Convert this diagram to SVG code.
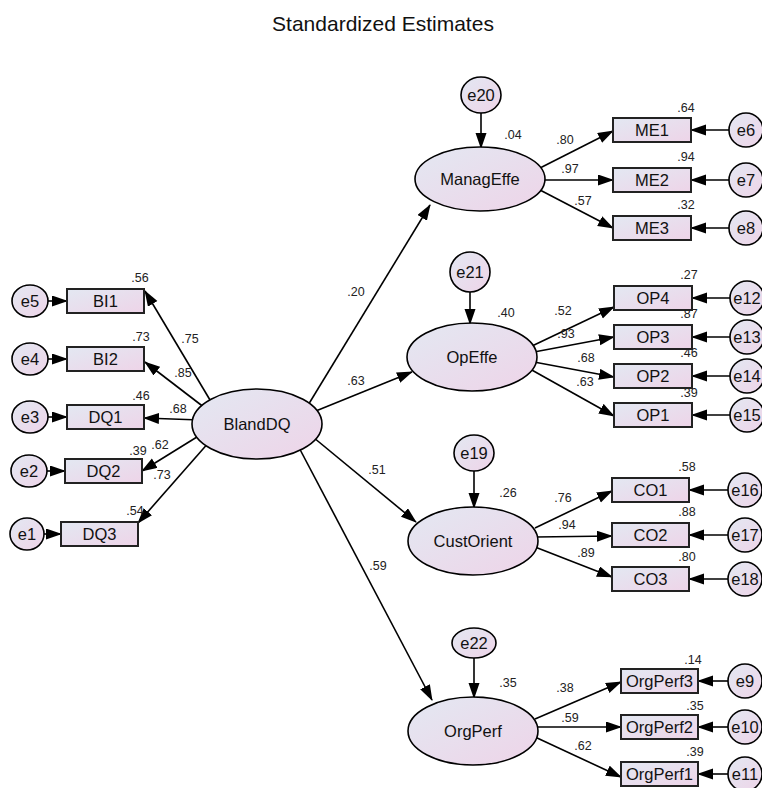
<svg xmlns="http://www.w3.org/2000/svg" width="762" height="788" viewBox="0 0 762 788">
<defs>
<linearGradient id="g" x1="0" y1="0" x2="1" y2="1">
<stop offset="0" stop-color="#e3e8f2"/>
<stop offset="1" stop-color="#eed4e8"/>
</linearGradient>
<marker id="ah" markerUnits="userSpaceOnUse" markerWidth="16" markerHeight="12" refX="15" refY="5.5" orient="auto">
<path d="M0,0 L16,5.5 L0,11 Z" fill="#000"/>
</marker>
<style>
.c line{stroke:#000;stroke-width:1.6;marker-end:url(#ah)}
.n ellipse{fill:url(#g);stroke:#000;stroke-width:1.6}
.n rect{fill:url(#g);stroke:#222;stroke-width:2}
text{font-family:"Liberation Sans",Arial,sans-serif;fill:#111}
.lb{font-size:16.5px;text-anchor:middle}
.nm{font-size:12.5px;text-anchor:middle;fill:#222}
.tt{font-size:21px;text-anchor:middle}
</style>
</defs>
<rect width="762" height="788" fill="#fff"/>
<text class="tt" x="383" y="31">Standardized Estimates</text>

<g id="connectors" class="c">
<line x1="47" y1="301" x2="67" y2="301"/>
<line x1="47" y1="359" x2="67" y2="359"/>
<line x1="47" y1="417" x2="67" y2="417"/>
<line x1="46" y1="471" x2="65" y2="471"/>
<line x1="43" y1="534" x2="61" y2="534"/>
<line x1="213" y1="405" x2="145" y2="291"/>
<line x1="205" y1="408" x2="145" y2="362"/>
<line x1="200" y1="420" x2="144" y2="418"/>
<line x1="205" y1="432" x2="142" y2="471"/>
<line x1="210" y1="441" x2="138" y2="523"/>
<line x1="299" y1="420" x2="430" y2="205"/>
<line x1="301" y1="417" x2="412" y2="372"/>
<line x1="302" y1="428" x2="416" y2="522"/>
<line x1="295" y1="440" x2="432" y2="700"/>
<line x1="481" y1="113" x2="481" y2="148"/>
<line x1="470" y1="292" x2="470" y2="324"/>
<line x1="474" y1="471" x2="474" y2="508"/>
<line x1="474" y1="658" x2="474" y2="698"/>
<line x1="540" y1="168" x2="613" y2="131"/>
<line x1="540" y1="180" x2="613" y2="180"/>
<line x1="540" y1="190" x2="613" y2="228"/>
<line x1="532" y1="346" x2="614" y2="307"/>
<line x1="534" y1="352" x2="614" y2="337"/>
<line x1="534" y1="362" x2="614" y2="377"/>
<line x1="530" y1="369" x2="614" y2="416"/>
<line x1="535" y1="528" x2="612" y2="491"/>
<line x1="536" y1="537" x2="612" y2="536"/>
<line x1="535" y1="547" x2="612" y2="577"/>
<line x1="535" y1="719" x2="621" y2="682"/>
<line x1="537" y1="727" x2="621" y2="727"/>
<line x1="535" y1="737" x2="621" y2="777"/>
<line x1="729" y1="130" x2="691" y2="130"/>
<line x1="729" y1="180" x2="691" y2="180"/>
<line x1="729" y1="228" x2="691" y2="228"/>
<line x1="730" y1="298" x2="692" y2="298"/>
<line x1="730" y1="337" x2="692" y2="337"/>
<line x1="730" y1="376" x2="692" y2="376"/>
<line x1="730" y1="415" x2="692" y2="415"/>
<line x1="728" y1="490" x2="689" y2="490"/>
<line x1="728" y1="535" x2="689" y2="535"/>
<line x1="728" y1="579" x2="689" y2="579"/>
<line x1="728" y1="681" x2="698" y2="681"/>
<line x1="728" y1="727" x2="698" y2="727"/>
<line x1="728" y1="774" x2="698" y2="774"/>
</g>

<g class="n">
<g id="BlandDQ"><ellipse cx="257" cy="424" rx="65" ry="35"/><text class="lb" x="257" y="430">BlandDQ</text></g>
<g id="ManagEffe"><ellipse cx="480" cy="179" rx="65" ry="32"/><text class="lb" x="480" y="185">ManagEffe</text></g>
<g id="OpEffe"><ellipse cx="472" cy="357" rx="65" ry="34"/><text class="lb" x="472" y="363">OpEffe</text></g>
<g id="CustOrient"><ellipse cx="473" cy="541" rx="65" ry="34"/><text class="lb" x="473" y="547">CustOrient</text></g>
<g id="OrgPerf"><ellipse cx="473" cy="731" rx="65" ry="34"/><text class="lb" x="473" y="737">OrgPerf</text></g>

<g id="e20"><ellipse cx="481" cy="95" rx="20" ry="18"/><text class="lb" x="481" y="101">e20</text></g>
<g id="e21"><ellipse cx="470" cy="272" rx="20" ry="20"/><text class="lb" x="470" y="278">e21</text></g>
<g id="e19"><ellipse cx="474" cy="453" rx="20" ry="18"/><text class="lb" x="474" y="459">e19</text></g>
<g id="e22"><ellipse cx="474" cy="643" rx="22" ry="15"/><text class="lb" x="474" y="649">e22</text></g>

<g id="BI1"><rect x="67" y="289" width="77" height="24"/><text class="lb" x="105.5" y="307">BI1</text></g>
<g id="BI2"><rect x="67" y="347" width="77" height="24"/><text class="lb" x="105.5" y="365">BI2</text></g>
<g id="DQ1"><rect x="67" y="405" width="77" height="24"/><text class="lb" x="105.5" y="423">DQ1</text></g>
<g id="DQ2"><rect x="65" y="459" width="77" height="24"/><text class="lb" x="103.5" y="477">DQ2</text></g>
<g id="DQ3"><rect x="61" y="522" width="77" height="24"/><text class="lb" x="99.5" y="540">DQ3</text></g>

<g id="e5"><ellipse cx="30" cy="301" rx="18" ry="16"/><text class="lb" x="30" y="307">e5</text></g>
<g id="e4"><ellipse cx="30" cy="359" rx="18" ry="16"/><text class="lb" x="30" y="365">e4</text></g>
<g id="e3"><ellipse cx="30" cy="417" rx="18" ry="16"/><text class="lb" x="30" y="423">e3</text></g>
<g id="e2"><ellipse cx="29" cy="471" rx="18" ry="16"/><text class="lb" x="29" y="477">e2</text></g>
<g id="e1"><ellipse cx="27" cy="534" rx="17" ry="16"/><text class="lb" x="27" y="540">e1</text></g>

<g id="ME1"><rect x="613" y="118" width="78" height="24"/><text class="lb" x="652" y="136">ME1</text></g>
<g id="ME2"><rect x="613" y="168" width="78" height="24"/><text class="lb" x="652" y="186">ME2</text></g>
<g id="ME3"><rect x="613" y="216" width="78" height="24"/><text class="lb" x="652" y="234">ME3</text></g>
<g id="OP4"><rect x="614" y="286" width="78" height="24"/><text class="lb" x="653" y="304">OP4</text></g>
<g id="OP3"><rect x="614" y="325" width="78" height="24"/><text class="lb" x="653" y="343">OP3</text></g>
<g id="OP2"><rect x="614" y="364" width="78" height="24"/><text class="lb" x="653" y="382">OP2</text></g>
<g id="OP1"><rect x="614" y="403" width="78" height="24"/><text class="lb" x="653" y="421">OP1</text></g>
<g id="CO1"><rect x="612" y="478" width="77" height="24"/><text class="lb" x="650.5" y="496">CO1</text></g>
<g id="CO2"><rect x="612" y="523" width="77" height="24"/><text class="lb" x="650.5" y="541">CO2</text></g>
<g id="CO3"><rect x="612" y="567" width="77" height="24"/><text class="lb" x="650.5" y="585">CO3</text></g>
<g id="OrgPerf3"><rect x="621" y="669" width="77" height="24"/><text class="lb" x="659.5" y="687">OrgPerf3</text></g>
<g id="OrgPerf2"><rect x="621" y="715" width="77" height="24"/><text class="lb" x="659.5" y="733">OrgPerf2</text></g>
<g id="OrgPerf1"><rect x="621" y="762" width="77" height="24"/><text class="lb" x="659.5" y="780">OrgPerf1</text></g>

<g id="e6"><ellipse cx="746" cy="130" rx="17" ry="17"/><text class="lb" x="746" y="136">e6</text></g>
<g id="e7"><ellipse cx="746" cy="180" rx="17" ry="17"/><text class="lb" x="746" y="186">e7</text></g>
<g id="e8"><ellipse cx="746" cy="228" rx="17" ry="17"/><text class="lb" x="746" y="234">e8</text></g>
<g id="e12"><ellipse cx="747" cy="298" rx="17" ry="17"/><text class="lb" x="747" y="304">e12</text></g>
<g id="e13"><ellipse cx="747" cy="337" rx="17" ry="17"/><text class="lb" x="747" y="343">e13</text></g>
<g id="e14"><ellipse cx="747" cy="376" rx="17" ry="17"/><text class="lb" x="747" y="382">e14</text></g>
<g id="e15"><ellipse cx="747" cy="415" rx="17" ry="17"/><text class="lb" x="747" y="421">e15</text></g>
<g id="e16"><ellipse cx="745" cy="490" rx="17" ry="17"/><text class="lb" x="745" y="496">e16</text></g>
<g id="e17"><ellipse cx="745" cy="535" rx="17" ry="17"/><text class="lb" x="745" y="541">e17</text></g>
<g id="e18"><ellipse cx="745" cy="579" rx="17" ry="17"/><text class="lb" x="745" y="585">e18</text></g>
<g id="e9"><ellipse cx="745" cy="681" rx="17" ry="17"/><text class="lb" x="745" y="687">e9</text></g>
<g id="e10"><ellipse cx="745" cy="727" rx="17" ry="17"/><text class="lb" x="745" y="733">e10</text></g>
<g id="e11"><ellipse cx="745" cy="774" rx="17" ry="17"/><text class="lb" x="745" y="780">e11</text></g>
</g>

<g id="labels">
<text class="nm" x="140" y="282">.56</text>
<text class="nm" x="190" y="343">.75</text>
<text class="nm" x="141" y="341">.73</text>
<text class="nm" x="183" y="377">.85</text>
<text class="nm" x="141" y="400">.46</text>
<text class="nm" x="178" y="413">.68</text>
<text class="nm" x="138" y="455">.39</text>
<text class="nm" x="160" y="449">.62</text>
<text class="nm" x="162" y="479">.73</text>
<text class="nm" x="135" y="515">.54</text>
<text class="nm" x="356" y="296">.20</text>
<text class="nm" x="356" y="385">.63</text>
<text class="nm" x="377" y="474">.51</text>
<text class="nm" x="378" y="570">.59</text>
<text class="nm" x="513" y="139">.04</text>
<text class="nm" x="565" y="144">.80</text>
<text class="nm" x="570" y="173">.97</text>
<text class="nm" x="583" y="205">.57</text>
<text class="nm" x="686" y="112">.64</text>
<text class="nm" x="686" y="161">.94</text>
<text class="nm" x="686" y="209">.32</text>
<text class="nm" x="506" y="317">.40</text>
<text class="nm" x="563" y="315">.52</text>
<text class="nm" x="566" y="338">.93</text>
<text class="nm" x="586" y="362">.68</text>
<text class="nm" x="585" y="386">.63</text>
<text class="nm" x="689" y="279">.27</text>
<text class="nm" x="689" y="318">.87</text>
<text class="nm" x="689" y="357">.46</text>
<text class="nm" x="689" y="397">.39</text>
<text class="nm" x="508" y="497">.26</text>
<text class="nm" x="563" y="502">.76</text>
<text class="nm" x="567" y="529">.94</text>
<text class="nm" x="586" y="557">.89</text>
<text class="nm" x="687" y="471">.58</text>
<text class="nm" x="687" y="516">.88</text>
<text class="nm" x="687" y="561">.80</text>
<text class="nm" x="508" y="687">.35</text>
<text class="nm" x="565" y="692">.38</text>
<text class="nm" x="570" y="722">.59</text>
<text class="nm" x="583" y="750">.62</text>
<text class="nm" x="693" y="664">.14</text>
<text class="nm" x="695" y="710">.35</text>
<text class="nm" x="695" y="756">.39</text>
</g>
</svg>
